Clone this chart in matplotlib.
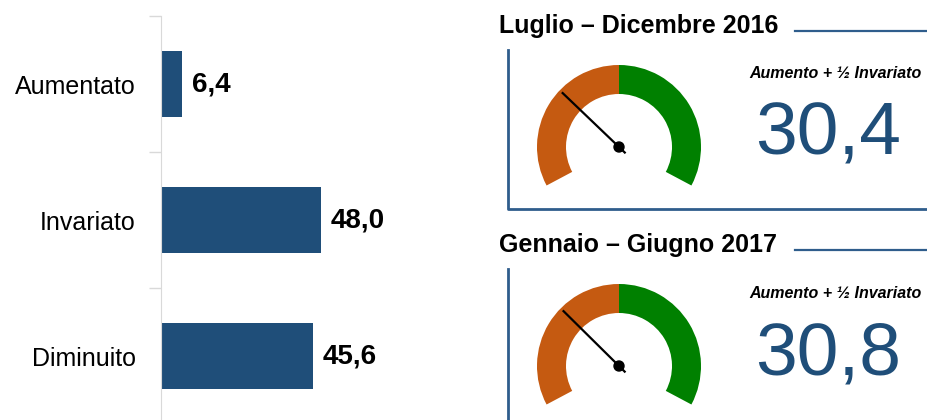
import matplotlib.pyplot as plt
from matplotlib.patches import Wedge, Circle
import numpy as np

plt.rcParams['font.family'] = ['Liberation Sans', 'DejaVu Sans']

# bar data
categories = ['Aumentato', 'Invariato', 'Diminuito']
shares = [6.4, 48.0, 45.6]
bar_labels = ['6,4', '48,0', '45,6']

# gauge data
periods = ['Luglio \u2013 Dicembre 2016', 'Gennaio \u2013 Giugno 2017']
gauge_values = [30.4, 30.8]
gauge_labels = ['30,4', '30,8']
gauge_caption = 'Aumento + \u00bd Invariato'

blue = '#1F4E79'
frame = '#2F5D8C'
orange = '#C55A11'
green = '#008000'

W, H = 928, 420
fig = plt.figure(figsize=(W / 100, H / 100), dpi=100)

# left bar chart
ax = fig.add_axes([161 / W, -4 / H, 333 / W, 408 / H])
y = np.arange(len(categories))
ax.barh(y, shares, height=0.49, color=blue)
ax.set_xlim(0, 100)
ax.set_ylim(2.5, -0.5)
ax.set_yticks(y, categories, fontsize=18)
ax.tick_params(axis='y', which='major', length=0, pad=18)
ax.set_yticks(y[:-1] + 0.5, minor=True)
ax.set_yticks(np.r_[-0.5, y[:-1] + 0.5], minor=True)
ax.tick_params(axis='y', which='minor', length=9, color='#d9d9d9', width=1)
ax.set_xticks([])
for s in ['top', 'right', 'bottom']:
    ax.spines[s].set_visible(False)
ax.spines['left'].set_color('#d9d9d9')
for yi, v, lab in zip(y, shares, bar_labels):
    ax.annotate(lab, (v, yi), xytext=(7, 0), textcoords='offset points',
                va='center', ha='left', fontsize=20, fontweight='bold')

# right side: gauges, drawn in pixel space (y upwards)
gx = fig.add_axes([0, 0, 1, 1], zorder=-1)
gx.set_xlim(0, W)
gx.set_ylim(0, H)
gx.axis('off')

a_start, a_end = 208, -28   # angle for 0 and 100
r_out, r_in = 82, 53


def val_to_angle(v):
    return a_start + (a_end - a_start) * v / 100


for i, (title, val, lab) in enumerate(zip(periods, gauge_values, gauge_labels)):
    off = i * 219
    ty = H - (26 + off)
    gx.text(499, ty, title, fontsize=18, fontweight='bold', ha='left', va='center')
    gx.plot([795, W], [H - (31 + off)] * 2, color=frame, lw=1.6)
    if i == 0:
        gx.plot([508, 508, W], [H - 50, H - 209, H - 209], color=frame, lw=2)
    else:
        gx.plot([508, 508], [H - (50 + off), -5], color=frame, lw=2)

    cx, cy = 619, H - (147 + off)
    gx.add_patch(Wedge((cx, cy), r_out, val_to_angle(50), val_to_angle(0),
                       width=r_out - r_in, color=orange, lw=0))
    gx.add_patch(Wedge((cx, cy), r_out, val_to_angle(100), val_to_angle(50),
                       width=r_out - r_in, color=green, lw=0))
    th = np.deg2rad(val_to_angle(val))
    gx.plot([cx - 8 * np.cos(th), cx + 78 * np.cos(th)],
            [cy - 8 * np.sin(th), cy + 78 * np.sin(th)], color='black', lw=1.6)
    gx.add_patch(Circle((cx, cy), 5, color='black'))

    gx.text(835, H - (74 + off), gauge_caption, fontsize=11.5, fontweight='bold',
            fontstyle='italic', ha='center', va='center')
    gx.text(828, H - (155 + off), lab, fontsize=54, color=blue,
            ha='center', va='baseline')

fig.savefig('out.png', dpi=100)
